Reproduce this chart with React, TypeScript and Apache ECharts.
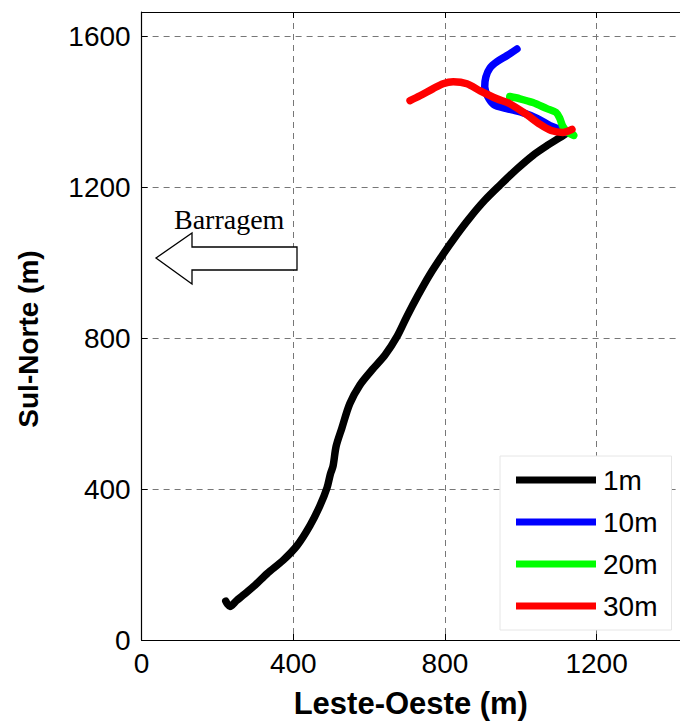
import React, { useEffect, useRef } from "react";
import * as echarts from "echarts";

const xTicks = [0, 400, 800, 1200];
const yTicks = [0, 400, 800, 1200, 1600];
const xMax = 1420;
const yMax = 1664;

const seriesNames = ["1m", "10m", "20m", "30m"];
const seriesColors = ["#000000", "#0000ff", "#00ff00", "#ff0000"];

const track1m: [number, number][] = [
  [222, 103], [226, 96], [233, 89], [250, 104], [267, 118], [299, 145], [331, 176],
  [373, 211], [410, 250], [444, 303], [470, 355], [489, 403], [498, 440],
  [505, 461], [513, 513], [528, 561], [549, 626], [576, 676], [608, 716],
  [642, 755], [673, 803], [700, 858], [730, 915], [760, 968], [795, 1022],
  [830, 1072], [865, 1118], [905, 1165], [945, 1205], [990, 1248],
  [1032, 1284], [1071, 1311], [1103, 1331], [1124, 1345],
];

const track10m: [number, number][] = [
  [990, 1566], [963, 1548], [937, 1532], [919, 1516], [908, 1492], [905, 1466],
  [913, 1440], [929, 1419], [963, 1408], [1003, 1398], [1043, 1382],
  [1077, 1363], [1103, 1353], [1119, 1345],
];

const track20m: [number, number][] = [
  [971, 1440], [998, 1434], [1032, 1424], [1069, 1408], [1093, 1398],
  [1103, 1382], [1111, 1361], [1124, 1345], [1140, 1337], [1135, 1342],
];

const track30m: [number, number][] = [
  [708, 1429], [734, 1442], [769, 1461], [795, 1474], [822, 1479], [858, 1474],
  [893, 1455], [937, 1434], [971, 1421], [1016, 1392], [1051, 1366],
  [1080, 1350], [1111, 1345], [1135, 1353],
];

const tracks = [track1m, track10m, track20m, track30m];

const FONT = "'Liberation Sans', Arial, Helvetica, sans-serif";

export default function App() {
  const ref = useRef<HTMLDivElement>(null);
  useEffect(() => {
    if (!ref.current) return;
    const chart = echarts.init(ref.current, null, { renderer: "svg" });
    const gridLine = { show: true, lineStyle: { color: "#777", type: [6, 5], width: 1 } };
    chart.setOption({
      animation: false,
      backgroundColor: "#ffffff",
      grid: { left: 141.6, top: 12, right: 0, bottom: 79, containLabel: false },
      xAxis: [
        {
          type: "value",
          min: 0,
          max: xMax,
          interval: 400,
          position: "bottom",
          axisLine: { show: true, lineStyle: { color: "#000", width: 1.2 } },
          axisTick: { show: true, inside: true, length: 6, lineStyle: { color: "#000" } },
          axisLabel: {
            color: "#000",
            fontSize: 28,
            fontFamily: FONT,
            margin: 9,
            showMaxLabel: false,
            formatter: (v: number) => (xTicks.includes(v) ? String(v) : ""),
          },
          splitLine: gridLine,
          name: "Leste-Oeste (m)",
          nameLocation: "middle",
          nameGap: 48,
          nameTextStyle: { color: "#000", fontSize: 31, fontWeight: "bold", fontFamily: FONT },
        },
        {
          type: "value",
          min: 0,
          max: xMax,
          interval: 400,
          position: "top",
          axisLine: { show: true, lineStyle: { color: "#000", width: 1.2 } },
          axisTick: { show: true, inside: true, length: 6, lineStyle: { color: "#000" } },
          axisLabel: { show: false },
          splitLine: { show: false },
        },
      ],
      yAxis: {
        type: "value",
        min: 0,
        max: yMax,
        interval: 400,
        axisLine: { show: true, lineStyle: { color: "#000", width: 1.2 } },
        axisTick: { show: true, inside: true, length: 6, lineStyle: { color: "#000" } },
        axisLabel: {
          color: "#000",
          fontSize: 28,
          fontFamily: FONT,
          margin: 11,
          showMaxLabel: false,
          formatter: (v: number) => (yTicks.includes(v) ? String(v) : ""),
        },
        splitLine: gridLine,
        name: "Sul-Norte (m)",
        nameLocation: "middle",
        nameGap: 99,
        nameTextStyle: {
          color: "#000",
          fontSize: 28,
          fontWeight: "bold",
          fontFamily: FONT,
          padding: [0, 26, 0, 0],
        },
      },
      legend: {
        orient: "vertical",
        left: 500,
        top: 456,
        data: seriesNames,
        icon: "rect",
        itemWidth: 80,
        itemHeight: 7,
        itemGap: 14,
        padding: [10, 14, 10, 16],
        backgroundColor: "#ffffff",
        borderColor: "#e6e6e6",
        borderWidth: 1,
        borderRadius: 0,
        textStyle: { color: "#000", fontSize: 28, fontFamily: FONT, lineHeight: 28, padding: [0, 0, 0, 2] },
      },
      series: tracks.map((d, i) => ({
        name: seriesNames[i],
        type: "line",
        xAxisIndex: 0,
        data: d,
        symbol: "none",
        smooth: 0.3,
        color: seriesColors[i],
        lineStyle: { color: seriesColors[i], width: 7.5, cap: "round", join: "round" },
        z: 3 + i,
      })),
      graphic: [
        {
          type: "polygon",
          z: 10,
          shape: {
            points: [
              [156, 258], [192, 233], [192, 247], [297, 247],
              [297, 270], [192, 270], [192, 284],
            ],
          },
          style: { fill: "#fff", stroke: "#000", lineWidth: 1.3 },
        },
        {
          type: "text",
          z: 10,
          x: 174,
          y: 219,
          style: {
            text: "Barragem",
            fill: "#000",
            font: "28px 'Liberation Serif', 'Times New Roman', serif",
            verticalAlign: "middle",
            align: "left",
          },
        },
      ],
    });
    return () => chart.dispose();
  }, []);
  return (
    <div
      ref={ref}
      style={{ position: "fixed", left: 0, top: 0, width: 680, height: 724, background: "#fff" }}
    />
  );
}
